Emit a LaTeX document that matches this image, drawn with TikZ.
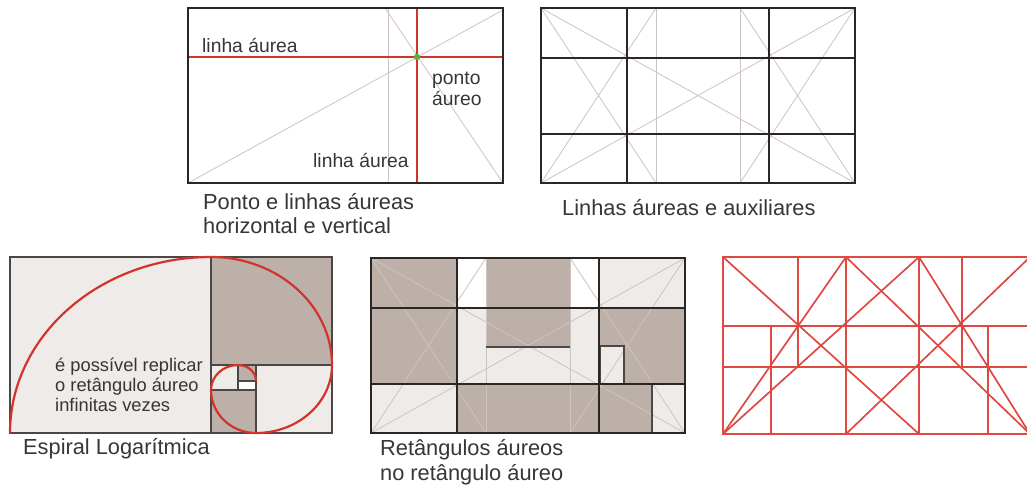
\documentclass[tikz,border=0pt]{standalone}
\usepackage{fontspec}
\setmainfont{Liberation Sans}
\usetikzlibrary{positioning}
\definecolor{ink}{HTML}{2B2623}
\definecolor{guidegrey}{HTML}{CDC3BF}
\definecolor{goldred}{HTML}{D2342C}
\definecolor{gridred}{HTML}{DE4A42}
\definecolor{dotgreen}{HTML}{5DB13A}
\definecolor{taupe}{HTML}{BDB0A9}
\definecolor{pale}{HTML}{EFEBE8}
\definecolor{txt}{HTML}{363636}

\begin{document}
\begin{tikzpicture}[x=1pt, y=-1pt,
  frame/.style = {draw=ink, line width=2.5},
  softframe/.style = {draw=ink!85, line width=1.3},
  guide/.style = {draw=guidegrey, line width=0.8},
  goldline/.style = {draw=goldred, line width=2.2},
  redline/.style = {draw=gridred, line width=1.7},
  darkfill/.style = {fill=taupe},
  lightfill/.style = {fill=pale},
  caption/.style = {anchor=base west, inner sep=0, text=txt, font=\fontsize{21.8}{26}\selectfont},
  tag/.style = {anchor=base west, inner sep=0, text=txt, font=\fontsize{19.3}{23}\selectfont},
  note/.style = {anchor=base west, inner sep=0, text=txt, font=\fontsize{18.3}{22}\selectfont}]
  \useasboundingbox (0,0) rectangle (1027,488);
  \clip (0,0) rectangle (1027,488);

  % ponto e linhas aureas
  \draw[guide] (388,8) -- (388,183);
  \draw[guide] (188,183) -- (503,10);
  \draw[guide] (385,8) -- (503,183);
  \draw[goldline] (188,57) -- (503,57);
  \draw[goldline] (417,8) -- (417,183);
  \fill[dotgreen] (417,57) circle (3.2);
  \draw[frame] (188,8) rectangle (503,183);
  \node[tag] (la) at (202,52) {linha áurea};
  \node[tag] (lb) at (313,167) {linha áurea};
  \node[tag] (pa) at (432,84) {ponto};
  \node[tag, below=21pt of pa.base west, anchor=base west] (pb) {áureo};
  \node[caption] (c1) at (203,209.5) {Ponto e linhas áureas};
  \node[caption, below=24pt of c1.base west, anchor=base west] (c1b) {horizontal e vertical};

  % linhas auxiliares
  \begin{scope}[shift={(541,8)}]
    \draw[guide] (115,0) -- (115,175) (199,0) -- (199,175);
    \draw[guide] (0,0) -- (314,175) (0,175) -- (314,0);
    \draw[guide] (0,0) -- (115,175) (0,175) -- (115,0);
    \draw[guide] (314,0) -- (199,175) (314,175) -- (199,0);
    \draw[frame] (86,0) -- (86,175) (228,0) -- (228,175) (0,50) -- (314,50) (0,126) -- (314,126);
    \draw[frame] (0,0) rectangle (314,175);
  \end{scope}
  \node[caption] (c2) at (562,215) {Linhas áureas e auxiliares};

  % espiral
  \begin{scope}[shift={(10,257)}]
    \fill[lightfill] (0,0) rectangle (322,176);
    \fill[darkfill] (201,0) rectangle (322,108);
    \fill[darkfill] (201,133) rectangle (246,176);
    \fill[darkfill] (228,108) rectangle (246,124);
    \fill[white] (228,124) rectangle (246,133);
    \draw[softframe] (201,0) -- (201,176) (201,108) -- (322,108) (246,108) -- (246,176)
      (201,133) -- (246,133) (228,108) -- (228,133) (228,124) -- (246,124);
    \draw[softframe] (0,0) rectangle (322,176);
    \draw[goldline] (0,176) arc[start angle=180, end angle=270, x radius=201, y radius=176]
      arc[start angle=270, end angle=360, x radius=121, y radius=108]
      arc[start angle=0, end angle=90, x radius=76, y radius=68]
      arc[start angle=90, end angle=180, x radius=45, y radius=43]
      arc[start angle=180, end angle=270, x radius=27, y radius=25]
      arc[start angle=270, end angle=360, x radius=18, y radius=16];
  \end{scope}
  \node[note] (n1) at (55,371.7) {é possível replicar};
  \node[note, below=20pt of n1.base west, anchor=base west] (n2) {o retângulo áureo};
  \node[note, below=20pt of n2.base west, anchor=base west] (n3) {infinitas vezes};
  \node[caption] (c3) at (23,454) {Espiral Logarítmica};

  % retangulos aureos
  \begin{scope}[shift={(371,258)}]
    \fill[darkfill] (0,0) rectangle (86,126);
    \fill[lightfill] (0,126) rectangle (86,175);
    \fill[lightfill] (86,50) rectangle (228,126);
    \fill[darkfill] (115,0) rectangle (199,89);
    \fill[lightfill] (228,0) rectangle (314,50);
    \fill[darkfill] (228,50) rectangle (314,126);
    \fill[lightfill] (229,88) rectangle (253,126);
    \fill[darkfill] (86,126) rectangle (281,175);
    \fill[lightfill] (281,126) rectangle (314,175);
    \draw[guide] (115,0) -- (115,175) (199,0) -- (199,175);
    \draw[guide] (0,0) -- (314,175) (0,175) -- (314,0);
    \draw[guide] (0,0) -- (115,175) (0,175) -- (115,0);
    \draw[guide] (314,0) -- (199,175) (314,175) -- (199,0);
    \draw[softframe] (115,89) -- (199,89);
    \draw[softframe] (229,126) -- (229,88) -- (253,88) -- (253,126);
    \draw[softframe] (281,126) -- (281,175);
    \draw[frame] (86,0) -- (86,175) (228,0) -- (228,175) (0,50) -- (314,50) (0,126) -- (314,126);
    \draw[frame] (0,0) rectangle (314,175);
  \end{scope}
  \node[caption] (c4) at (380,455) {Retângulos áureos};
  \node[caption, below=25pt of c4.base west, anchor=base west] (c4b) {no retângulo áureo};

  % linhas vermelhas
  \draw[redline] (723,257) rectangle (1030,434);
  \draw[redline] (723,326) -- (1030,326) (723,367) -- (1030,367);
  \draw[redline] (846,257) -- (846,434) (919,257) -- (919,434);
  \draw[redline] (798,257) -- (798,367) (962,257) -- (962,367);
  \draw[redline] (771,326) -- (771,434) (988,326) -- (988,434);
  \draw[redline] (723,257) -- (919,434) (1030,257) -- (846,434);
  \draw[redline] (723,434) -- (919,257) (1030,434) -- (846,257);
  \draw[redline] (723,434) -- (846,257) (1030,434) -- (919,257);
\end{tikzpicture}
\end{document}
